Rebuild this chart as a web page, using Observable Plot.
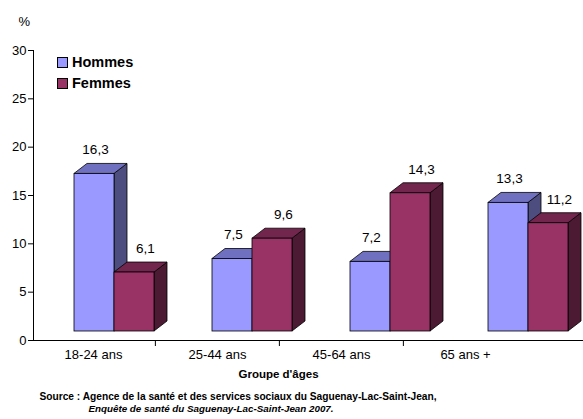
<!DOCTYPE html>
<html lang="fr">
<head>
<meta charset="utf-8">
<script src="https://cdn.jsdelivr.net/npm/d3@7"></script>
<script src="https://cdn.jsdelivr.net/npm/@observablehq/plot@0.6"></script>
<style>
  html, body { margin: 0; padding: 0; background: #fff; }
  #chart { position: relative; width: 583px; height: 419px; overflow: hidden;
           font-family: "Liberation Sans", Arial, sans-serif; color: #000; }
  #chart svg { position: absolute; left: 0; top: 0; overflow: visible; }
  .legend { position: absolute; left: 57px; top: 52px; font-weight: bold; font-size: 14.5px; line-height: 21px; }
  .legend div { display: flex; align-items: center; }
  .legend span.sw { display: inline-block; width: 9px; height: 9px; border: 1px solid #000; margin-right: 4px; }
</style>
</head>
<body>
<div id="chart"></div>
<script>
// Age groups, percentages by sex, axis ticks
const categories = ["18-24 ans", "25-44 ans", "45-64 ans", "65 ans +"];
const hommes = [16.3, 7.5, 7.2, 13.3];
const femmes = [6.1, 9.6, 14.3, 11.2];
const yTicks = [0, 5, 10, 15, 20, 25, 30];
const series = ["Hommes", "Femmes"];

// Face colours for each series: front, top, side
const faces = {
  Hommes: {front: "#9999FF", top: "#7070C0", side: "#4D4D80"},
  Femmes: {front: "#993366", top: "#73264D", side: "#4D1A33"}
};

const rows = [];
categories.forEach((cat, i) => {
  rows.push({cat, sex: "Hommes", value: hommes[i]});
  rows.push({cat, sex: "Femmes", value: femmes[i]});
});

const fmt = v => v.toFixed(1).replace(".", ",");
const font = "'Liberation Sans', Arial, sans-serif";
const W = 583, H = 419;
const DEPTH_X = 13, DEPTH_Y = 10;

// Axis frame: y axis, baseline, category labels, titles
const axisRange = [30, 527];
const band = (axisRange[1] - axisRange[0]) / categories.length;
const frame = Plot.plot({
  width: W, height: H,
  marginLeft: 33, marginRight: 0, marginTop: 50, marginBottom: 79,
  style: {fontFamily: font, fontSize: "13px", color: "#000", background: "transparent", overflow: "visible"},
  x: {type: "band", domain: categories, range: axisRange, padding: 0},
  y: {domain: [0, 30]},
  marks: [
    Plot.frame({anchor: "left", stroke: "#000"}),
    Plot.ruleY([0], {stroke: "#000"}),
    Plot.axisY({ticks: yTicks, tickSize: 5, tickPadding: 2, fontSize: 13, label: null}),
    Plot.axisX({ticks: categories.slice(1), tickSize: 6, tickFormat: () => "", dx: -band / 2, label: null}),
    Plot.axisX({tickSize: 0, tickPadding: 9, fontSize: 13, label: null}),
    Plot.text(["%"], {frameAnchor: "top-left", dx: -15, dy: -34, fontSize: 13}),
    Plot.text(["Groupe d'âges"], {frameAnchor: "bottom", dx: -30, dy: 37, fontSize: 11.5, fontWeight: "bold"}),
    Plot.text(["Source : Agence de la santé et des services sociaux du Saguenay-Lac-Saint-Jean,"],
      {frameAnchor: "bottom-left", dx: 6, dy: 59, textAnchor: "start", fontSize: 10.2, fontWeight: "bold"}),
    Plot.text(["Enquête de santé du Saguenay-Lac-Saint-Jean 2007."],
      {frameAnchor: "bottom-left", dx: 55, dy: 71, textAnchor: "start", fontSize: 9.8, fontWeight: "bold", fontStyle: "italic"})
  ]
});

// Top and side faces of each column, drawn from the plot's own scales
function prismFaces(index, scales) {
  const x = scales.x, y = scales.y;
  const half = x.bandwidth() / 2;
  const g = d3.create("svg:g").attr("stroke", "#000").attr("stroke-width", 0.8).attr("stroke-linejoin", "round");
  for (const r of rows) {
    const x0 = x(r.cat) + (r.sex === "Hommes" ? 0 : half);
    const x1 = x0 + half;
    const yt = y(r.value), yb = y(0);
    g.append("path").attr("fill", faces[r.sex].side)
      .attr("d", `M${x1},${yt}L${x1 + DEPTH_X},${yt - DEPTH_Y}L${x1 + DEPTH_X},${yb - DEPTH_Y}L${x1},${yb}Z`);
    g.append("path").attr("fill", faces[r.sex].top)
      .attr("d", `M${x0},${yt}L${x0 + DEPTH_X},${yt - DEPTH_Y}L${x1 + DEPTH_X},${yt - DEPTH_Y}L${x1},${yt}Z`);
  }
  return g.node();
}

// Columns with value labels
const bars = Plot.plot({
  width: W, height: H,
  style: {fontFamily: font, fontSize: "13.5px", color: "#000", background: "transparent", overflow: "visible"},
  x: {domain: categories, range: [73, 569], paddingInner: 0.423, paddingOuter: 0, axis: null},
  y: {domain: [0, 30], range: [331, 41], axis: null},
  marks: [
    prismFaces,
    Plot.barY(rows.filter(d => d.sex === "Hommes"), {x: "cat", y: "value", insetRight: 40,
      fill: faces.Hommes.front, stroke: "#000", strokeWidth: 0.8}),
    Plot.barY(rows.filter(d => d.sex === "Femmes"), {x: "cat", y: "value", insetLeft: 40,
      fill: faces.Femmes.front, stroke: "#000", strokeWidth: 0.8}),
    Plot.text(rows.filter(d => d.sex === "Hommes"), {x: "cat", y: "value", text: d => fmt(d.value), dx: -19, dy: -24, fontSize: 13.5}),
    Plot.text(rows.filter(d => d.sex === "Femmes"), {x: "cat", y: "value", text: d => fmt(d.value), dx: 31, dy: -24, fontSize: 13.5})
  ]
});

const chart = document.getElementById("chart");
chart.append(frame, bars);

// Legend
const legend = document.createElement("div");
legend.className = "legend";
for (const s of series) {
  const item = document.createElement("div");
  const sw = document.createElement("span");
  sw.className = "sw";
  sw.style.background = faces[s].front;
  item.append(sw, document.createTextNode(s));
  legend.append(item);
}
chart.append(legend);
</script>
</body>
</html>
